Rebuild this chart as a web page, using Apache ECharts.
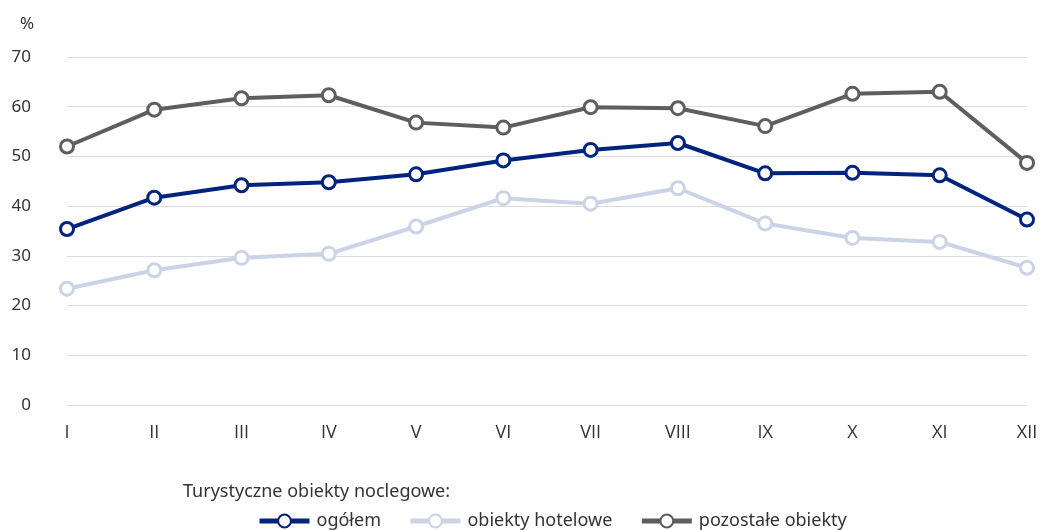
<!DOCTYPE html>
<html>
<head>
<meta charset="utf-8">
<script src="https://cdn.jsdelivr.net/npm/echarts@6/dist/echarts.min.js"></script>
<style>
  html, body { margin: 0; padding: 0; background: #fff; }
  #chart { width: 1043px; height: 530px; }
</style>
</head>
<body>
<div id="chart"></div>
<script>
  // miesiące
  const months = ['I', 'II', 'III', 'IV', 'V', 'VI', 'VII', 'VIII', 'IX', 'X', 'XI', 'XII']
  // stopień wykorzystania miejsc noclegowych, %
  const ogolem = [35.4, 41.7, 44.2, 44.8, 46.4, 49.2, 51.3, 52.7, 46.6, 46.7, 46.2, 37.3]
  const hotelowe = [23.4, 27.1, 29.6, 30.4, 35.9, 41.6, 40.5, 43.6, 36.5, 33.6, 32.8, 27.6]
  const pozostale = [52.0, 59.4, 61.7, 62.3, 56.8, 55.8, 59.9, 59.7, 56.1, 62.6, 63.0, 48.7]

  const font = 'Noto Sans, sans-serif'
  const chart = echarts.init(document.getElementById('chart'))

  const makeSeries = (name, data, color) => ({
    name: name,
    type: 'line',
    data: data,
    symbol: 'circle',
    symbolSize: 13,
    showSymbol: true,
    lineStyle: { color: color, width: 4 },
    itemStyle: { color: '#fff', borderColor: color, borderWidth: 3 },
    emphasis: { disabled: true },
    z: 3
  })

  const option = {
    animation: false,
    textStyle: { fontFamily: font },
    title: [
      {
        text: '%',
        left: 15,
        top: 11,
        textStyle: { fontFamily: font, fontSize: 17, fontWeight: 'normal', color: '#333' }
      },
      {
        text: 'Turystyczne obiekty noclegowe:',
        left: 178,
        top: 478,
        textStyle: { fontFamily: font, fontSize: 18, fontWeight: 'normal', color: '#333' }
      }
    ],
    grid: { left: 67, right: 16, top: 57, bottom: 125 },
    legend: {
      left: 252,
      top: 507,
      itemWidth: 50,
      itemHeight: 16,
      itemGap: 27,
      lineStyle: { width: 5 },
      textStyle: { fontFamily: font, fontSize: 18, color: '#333', padding: [0, 0, 0, 2] },
      data: ['ogółem', 'obiekty hotelowe', 'pozostałe obiekty']
    },
    xAxis: {
      type: 'category',
      data: months,
      boundaryGap: false,
      axisLine: { show: false },
      axisTick: { show: false },
      axisLabel: {
        color: '#333',
        fontSize: 18,
        margin: 19,
        fontFamily: 'Open Sans, sans-serif'
      }
    },
    yAxis: {
      type: 'value',
      min: 0,
      max: 70,
      interval: 10,
      axisLine: { show: false },
      axisTick: { show: false },
      axisLabel: { color: '#333', fontSize: 17, margin: 36, fontFamily: font },
      splitLine: { lineStyle: { color: '#dcdcdc', width: 1 } }
    },
    series: [
      makeSeries('ogółem', ogolem, '#00237d'),
      makeSeries('obiekty hotelowe', hotelowe, '#ccd3e6'),
      makeSeries('pozostałe obiekty', pozostale, '#5f5e5d')
    ]
  }

  chart.setOption(option)
</script>
</body>
</html>
